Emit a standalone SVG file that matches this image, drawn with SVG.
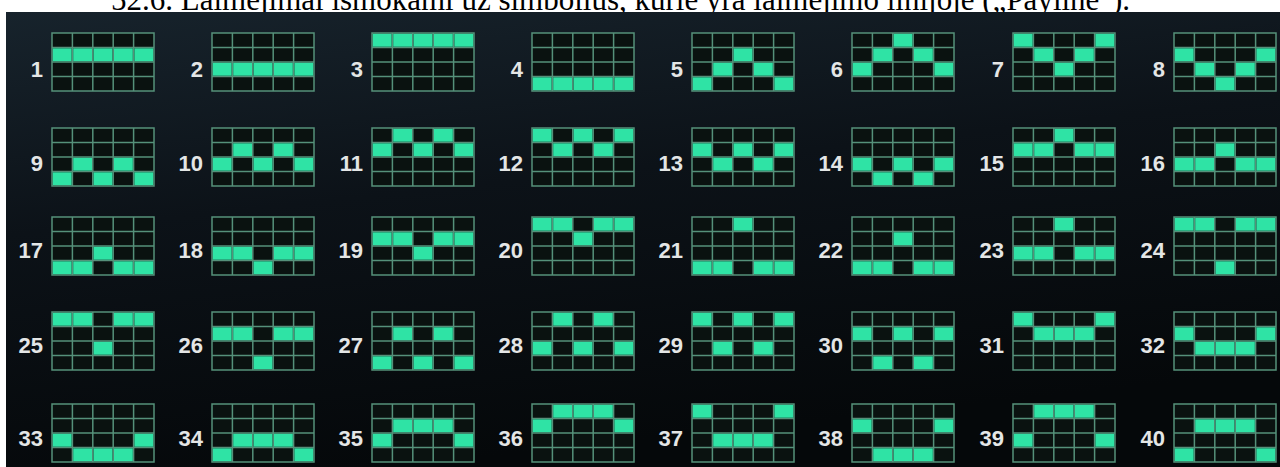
<svg xmlns="http://www.w3.org/2000/svg" xmlns:xlink="http://www.w3.org/1999/xlink" width="1280" height="467" viewBox="0 0 1280 467">
<style>
.title{font-family:"Liberation Serif","Times New Roman",serif;font-size:31px;fill:#000}
.num{font-family:"Liberation Sans",Arial,sans-serif;font-weight:bold;font-size:22px;fill:#e4e6e6;text-anchor:end}
.gl{fill:#0a1210;stroke:#55917a;stroke-width:1.5}
.cell{fill:#2fe3a5}
</style>
<defs>
<linearGradient id="bg" x1="0" y1="0" x2="0.3" y2="1">
<stop offset="0" stop-color="#17232c"/>
<stop offset="0.45" stop-color="#0c1218"/>
<stop offset="1" stop-color="#05080a"/>
</linearGradient>
<path id="grid" class="gl" d="M0,0H102V58H0Z M20.4,0V58 M40.8,0V58 M61.2,0V58 M81.6,0V58 M0,14.5H102 M0,29H102 M0,43.5H102"/>
<rect id="cell" class="cell" width="18.8" height="12.9"/>
</defs>
<rect width="1280" height="467" fill="#ffffff"/>
<text class="title" x="111" y="10">52.6. Laimėjimai išmokami už simbolius, kurie yra laimėjimo linijoje („Payline").</text>
<rect x="6" y="12" width="1274" height="455" fill="url(#bg)"/>

<g id="payline-1" transform="translate(52,33)"><use href="#grid"/><use href="#cell" x="0.8" y="15.3"/><use href="#cell" x="21.2" y="15.3"/><use href="#cell" x="41.6" y="15.3"/><use href="#cell" x="62" y="15.3"/><use href="#cell" x="82.4" y="15.3"/><text class="num" x="-9" y="44">1</text></g>
<g id="payline-2" transform="translate(212,33)"><use href="#grid"/><use href="#cell" x="0.8" y="29.8"/><use href="#cell" x="21.2" y="29.8"/><use href="#cell" x="41.6" y="29.8"/><use href="#cell" x="62" y="29.8"/><use href="#cell" x="82.4" y="29.8"/><text class="num" x="-9" y="44">2</text></g>
<g id="payline-3" transform="translate(372,33)"><use href="#grid"/><use href="#cell" x="0.8" y="0.8"/><use href="#cell" x="21.2" y="0.8"/><use href="#cell" x="41.6" y="0.8"/><use href="#cell" x="62" y="0.8"/><use href="#cell" x="82.4" y="0.8"/><text class="num" x="-9" y="44">3</text></g>
<g id="payline-4" transform="translate(532,33)"><use href="#grid"/><use href="#cell" x="0.8" y="44.3"/><use href="#cell" x="21.2" y="44.3"/><use href="#cell" x="41.6" y="44.3"/><use href="#cell" x="62" y="44.3"/><use href="#cell" x="82.4" y="44.3"/><text class="num" x="-9" y="44">4</text></g>
<g id="payline-5" transform="translate(692,33)"><use href="#grid"/><use href="#cell" x="0.8" y="44.3"/><use href="#cell" x="21.2" y="29.8"/><use href="#cell" x="41.6" y="15.3"/><use href="#cell" x="62" y="29.8"/><use href="#cell" x="82.4" y="44.3"/><text class="num" x="-9" y="44">5</text></g>
<g id="payline-6" transform="translate(852,33)"><use href="#grid"/><use href="#cell" x="0.8" y="29.8"/><use href="#cell" x="21.2" y="15.3"/><use href="#cell" x="41.6" y="0.8"/><use href="#cell" x="62" y="15.3"/><use href="#cell" x="82.4" y="29.8"/><text class="num" x="-9" y="44">6</text></g>
<g id="payline-7" transform="translate(1013,33)"><use href="#grid"/><use href="#cell" x="0.8" y="0.8"/><use href="#cell" x="21.2" y="15.3"/><use href="#cell" x="41.6" y="29.8"/><use href="#cell" x="62" y="15.3"/><use href="#cell" x="82.4" y="0.8"/><text class="num" x="-9" y="44">7</text></g>
<g id="payline-8" transform="translate(1174,33)"><use href="#grid"/><use href="#cell" x="0.8" y="15.3"/><use href="#cell" x="21.2" y="29.8"/><use href="#cell" x="41.6" y="44.3"/><use href="#cell" x="62" y="29.8"/><use href="#cell" x="82.4" y="15.3"/><text class="num" x="-9" y="44">8</text></g>

<g id="payline-9" transform="translate(52,128)"><use href="#grid"/><use href="#cell" x="0.8" y="44.3"/><use href="#cell" x="21.2" y="29.8"/><use href="#cell" x="41.6" y="44.3"/><use href="#cell" x="62" y="29.8"/><use href="#cell" x="82.4" y="44.3"/><text class="num" x="-9" y="43">9</text></g>
<g id="payline-10" transform="translate(212,128)"><use href="#grid"/><use href="#cell" x="0.8" y="29.8"/><use href="#cell" x="21.2" y="15.3"/><use href="#cell" x="41.6" y="29.8"/><use href="#cell" x="62" y="15.3"/><use href="#cell" x="82.4" y="29.8"/><text class="num" x="-9" y="43">10</text></g>
<g id="payline-11" transform="translate(372,128)"><use href="#grid"/><use href="#cell" x="0.8" y="15.3"/><use href="#cell" x="21.2" y="0.8"/><use href="#cell" x="41.6" y="15.3"/><use href="#cell" x="62" y="0.8"/><use href="#cell" x="82.4" y="15.3"/><text class="num" x="-9" y="43">11</text></g>
<g id="payline-12" transform="translate(532,128)"><use href="#grid"/><use href="#cell" x="0.8" y="0.8"/><use href="#cell" x="21.2" y="15.3"/><use href="#cell" x="41.6" y="0.8"/><use href="#cell" x="62" y="15.3"/><use href="#cell" x="82.4" y="0.8"/><text class="num" x="-9" y="43">12</text></g>
<g id="payline-13" transform="translate(692,128)"><use href="#grid"/><use href="#cell" x="0.8" y="15.3"/><use href="#cell" x="21.2" y="29.8"/><use href="#cell" x="41.6" y="15.3"/><use href="#cell" x="62" y="29.8"/><use href="#cell" x="82.4" y="15.3"/><text class="num" x="-9" y="43">13</text></g>
<g id="payline-14" transform="translate(852,128)"><use href="#grid"/><use href="#cell" x="0.8" y="29.8"/><use href="#cell" x="21.2" y="44.3"/><use href="#cell" x="41.6" y="29.8"/><use href="#cell" x="62" y="44.3"/><use href="#cell" x="82.4" y="29.8"/><text class="num" x="-9" y="43">14</text></g>
<g id="payline-15" transform="translate(1013,128)"><use href="#grid"/><use href="#cell" x="0.8" y="15.3"/><use href="#cell" x="21.2" y="15.3"/><use href="#cell" x="41.6" y="0.8"/><use href="#cell" x="62" y="15.3"/><use href="#cell" x="82.4" y="15.3"/><text class="num" x="-9" y="43">15</text></g>
<g id="payline-16" transform="translate(1174,128)"><use href="#grid"/><use href="#cell" x="0.8" y="29.8"/><use href="#cell" x="21.2" y="29.8"/><use href="#cell" x="41.6" y="15.3"/><use href="#cell" x="62" y="29.8"/><use href="#cell" x="82.4" y="29.8"/><text class="num" x="-9" y="43">16</text></g>

<g id="payline-17" transform="translate(52,217)"><use href="#grid"/><use href="#cell" x="0.8" y="44.3"/><use href="#cell" x="21.2" y="44.3"/><use href="#cell" x="41.6" y="29.8"/><use href="#cell" x="62" y="44.3"/><use href="#cell" x="82.4" y="44.3"/><text class="num" x="-9" y="41">17</text></g>
<g id="payline-18" transform="translate(212,217)"><use href="#grid"/><use href="#cell" x="0.8" y="29.8"/><use href="#cell" x="21.2" y="29.8"/><use href="#cell" x="41.6" y="44.3"/><use href="#cell" x="62" y="29.8"/><use href="#cell" x="82.4" y="29.8"/><text class="num" x="-9" y="41">18</text></g>
<g id="payline-19" transform="translate(372,217)"><use href="#grid"/><use href="#cell" x="0.8" y="15.3"/><use href="#cell" x="21.2" y="15.3"/><use href="#cell" x="41.6" y="29.8"/><use href="#cell" x="62" y="15.3"/><use href="#cell" x="82.4" y="15.3"/><text class="num" x="-9" y="41">19</text></g>
<g id="payline-20" transform="translate(532,217)"><use href="#grid"/><use href="#cell" x="0.8" y="0.8"/><use href="#cell" x="21.2" y="0.8"/><use href="#cell" x="41.6" y="15.3"/><use href="#cell" x="62" y="0.8"/><use href="#cell" x="82.4" y="0.8"/><text class="num" x="-9" y="41">20</text></g>
<g id="payline-21" transform="translate(692,217)"><use href="#grid"/><use href="#cell" x="0.8" y="44.3"/><use href="#cell" x="21.2" y="44.3"/><use href="#cell" x="41.6" y="0.8"/><use href="#cell" x="62" y="44.3"/><use href="#cell" x="82.4" y="44.3"/><text class="num" x="-9" y="41">21</text></g>
<g id="payline-22" transform="translate(852,217)"><use href="#grid"/><use href="#cell" x="0.8" y="44.3"/><use href="#cell" x="21.2" y="44.3"/><use href="#cell" x="41.6" y="15.3"/><use href="#cell" x="62" y="44.3"/><use href="#cell" x="82.4" y="44.3"/><text class="num" x="-9" y="41">22</text></g>
<g id="payline-23" transform="translate(1013,217)"><use href="#grid"/><use href="#cell" x="0.8" y="29.8"/><use href="#cell" x="21.2" y="29.8"/><use href="#cell" x="41.6" y="0.8"/><use href="#cell" x="62" y="29.8"/><use href="#cell" x="82.4" y="29.8"/><text class="num" x="-9" y="41">23</text></g>
<g id="payline-24" transform="translate(1174,217)"><use href="#grid"/><use href="#cell" x="0.8" y="0.8"/><use href="#cell" x="21.2" y="0.8"/><use href="#cell" x="41.6" y="44.3"/><use href="#cell" x="62" y="0.8"/><use href="#cell" x="82.4" y="0.8"/><text class="num" x="-9" y="41">24</text></g>

<g id="payline-25" transform="translate(52,312)"><use href="#grid"/><use href="#cell" x="0.8" y="0.8"/><use href="#cell" x="21.2" y="0.8"/><use href="#cell" x="41.6" y="29.8"/><use href="#cell" x="62" y="0.8"/><use href="#cell" x="82.4" y="0.8"/><text class="num" x="-9" y="41">25</text></g>
<g id="payline-26" transform="translate(212,312)"><use href="#grid"/><use href="#cell" x="0.8" y="15.3"/><use href="#cell" x="21.2" y="15.3"/><use href="#cell" x="41.6" y="44.3"/><use href="#cell" x="62" y="15.3"/><use href="#cell" x="82.4" y="15.3"/><text class="num" x="-9" y="41">26</text></g>
<g id="payline-27" transform="translate(372,312)"><use href="#grid"/><use href="#cell" x="0.8" y="44.3"/><use href="#cell" x="21.2" y="15.3"/><use href="#cell" x="41.6" y="44.3"/><use href="#cell" x="62" y="15.3"/><use href="#cell" x="82.4" y="44.3"/><text class="num" x="-9" y="41">27</text></g>
<g id="payline-28" transform="translate(532,312)"><use href="#grid"/><use href="#cell" x="0.8" y="29.8"/><use href="#cell" x="21.2" y="0.8"/><use href="#cell" x="41.6" y="29.8"/><use href="#cell" x="62" y="0.8"/><use href="#cell" x="82.4" y="29.8"/><text class="num" x="-9" y="41">28</text></g>
<g id="payline-29" transform="translate(692,312)"><use href="#grid"/><use href="#cell" x="0.8" y="0.8"/><use href="#cell" x="21.2" y="29.8"/><use href="#cell" x="41.6" y="0.8"/><use href="#cell" x="62" y="29.8"/><use href="#cell" x="82.4" y="0.8"/><text class="num" x="-9" y="41">29</text></g>
<g id="payline-30" transform="translate(852,312)"><use href="#grid"/><use href="#cell" x="0.8" y="15.3"/><use href="#cell" x="21.2" y="44.3"/><use href="#cell" x="41.6" y="15.3"/><use href="#cell" x="62" y="44.3"/><use href="#cell" x="82.4" y="15.3"/><text class="num" x="-9" y="41">30</text></g>
<g id="payline-31" transform="translate(1013,312)"><use href="#grid"/><use href="#cell" x="0.8" y="0.8"/><use href="#cell" x="21.2" y="15.3"/><use href="#cell" x="41.6" y="15.3"/><use href="#cell" x="62" y="15.3"/><use href="#cell" x="82.4" y="0.8"/><text class="num" x="-9" y="41">31</text></g>
<g id="payline-32" transform="translate(1174,312)"><use href="#grid"/><use href="#cell" x="0.8" y="15.3"/><use href="#cell" x="21.2" y="29.8"/><use href="#cell" x="41.6" y="29.8"/><use href="#cell" x="62" y="29.8"/><use href="#cell" x="82.4" y="15.3"/><text class="num" x="-9" y="41">32</text></g>

<g id="payline-33" transform="translate(52,404)"><use href="#grid"/><use href="#cell" x="0.8" y="29.8"/><use href="#cell" x="21.2" y="44.3"/><use href="#cell" x="41.6" y="44.3"/><use href="#cell" x="62" y="44.3"/><use href="#cell" x="82.4" y="29.8"/><text class="num" x="-9" y="42">33</text></g>
<g id="payline-34" transform="translate(212,404)"><use href="#grid"/><use href="#cell" x="0.8" y="44.3"/><use href="#cell" x="21.2" y="29.8"/><use href="#cell" x="41.6" y="29.8"/><use href="#cell" x="62" y="29.8"/><use href="#cell" x="82.4" y="44.3"/><text class="num" x="-9" y="42">34</text></g>
<g id="payline-35" transform="translate(372,404)"><use href="#grid"/><use href="#cell" x="0.8" y="29.8"/><use href="#cell" x="21.2" y="15.3"/><use href="#cell" x="41.6" y="15.3"/><use href="#cell" x="62" y="15.3"/><use href="#cell" x="82.4" y="29.8"/><text class="num" x="-9" y="42">35</text></g>
<g id="payline-36" transform="translate(532,404)"><use href="#grid"/><use href="#cell" x="0.8" y="15.3"/><use href="#cell" x="21.2" y="0.8"/><use href="#cell" x="41.6" y="0.8"/><use href="#cell" x="62" y="0.8"/><use href="#cell" x="82.4" y="15.3"/><text class="num" x="-9" y="42">36</text></g>
<g id="payline-37" transform="translate(692,404)"><use href="#grid"/><use href="#cell" x="0.8" y="0.8"/><use href="#cell" x="21.2" y="29.8"/><use href="#cell" x="41.6" y="29.8"/><use href="#cell" x="62" y="29.8"/><use href="#cell" x="82.4" y="0.8"/><text class="num" x="-9" y="42">37</text></g>
<g id="payline-38" transform="translate(852,404)"><use href="#grid"/><use href="#cell" x="0.8" y="15.3"/><use href="#cell" x="21.2" y="44.3"/><use href="#cell" x="41.6" y="44.3"/><use href="#cell" x="62" y="44.3"/><use href="#cell" x="82.4" y="15.3"/><text class="num" x="-9" y="42">38</text></g>
<g id="payline-39" transform="translate(1013,404)"><use href="#grid"/><use href="#cell" x="0.8" y="29.8"/><use href="#cell" x="21.2" y="0.8"/><use href="#cell" x="41.6" y="0.8"/><use href="#cell" x="62" y="0.8"/><use href="#cell" x="82.4" y="29.8"/><text class="num" x="-9" y="42">39</text></g>
<g id="payline-40" transform="translate(1174,404)"><use href="#grid"/><use href="#cell" x="0.8" y="44.3"/><use href="#cell" x="21.2" y="15.3"/><use href="#cell" x="41.6" y="15.3"/><use href="#cell" x="62" y="15.3"/><use href="#cell" x="82.4" y="44.3"/><text class="num" x="-9" y="42">40</text></g>
</svg>
